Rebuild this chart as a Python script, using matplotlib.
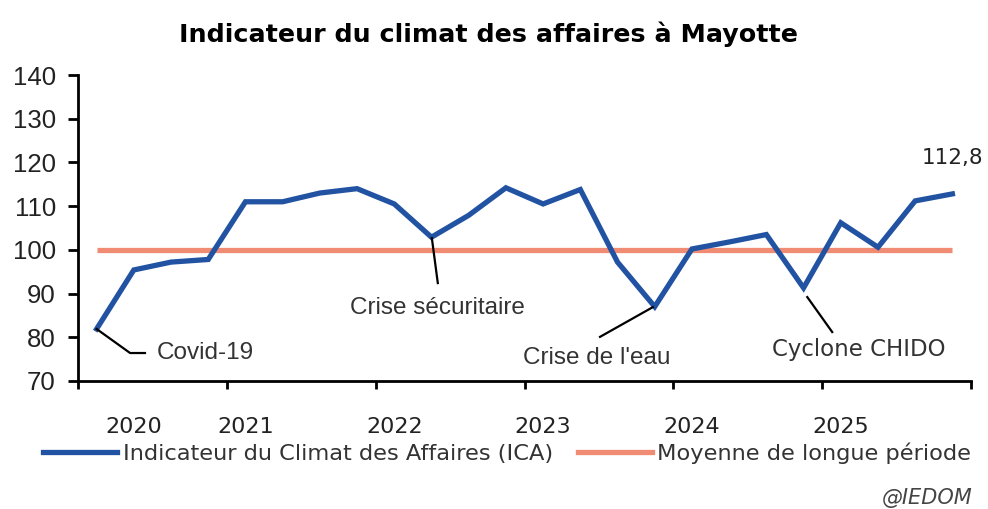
import matplotlib.pyplot as plt
from matplotlib.lines import Line2D

# Quarterly values, 2020 Q1 .. 2025 Q4
ica = [81.9, 95.4, 97.2, 97.8, 111.0, 111.0, 113.0, 114.0,
       110.5, 102.9, 107.9, 114.2, 110.5, 113.8, 97.2, 87.0,
       100.2, 101.8, 103.5, 91.3, 106.2, 100.6, 111.2, 112.8]
moyenne = [100] * len(ica)
years = ['2020', '2021', '2022', '2023', '2024', '2025']
year_pos = [1, 4, 8, 12, 16, 20]

blue = '#2253A2'
salmon = '#F08B74'
arial = 'Liberation Sans'
tahoma = 'DejaVu Sans'

fig = plt.figure(figsize=(9.88, 5.09), dpi=100)
ax = fig.add_axes([78 / 988, 1 - 381 / 509, 893 / 988, 306 / 509])

x = list(range(len(ica)))
ax.plot(x, moyenne, color=salmon, lw=3.8, solid_capstyle='butt')
ax.plot(x, ica, color=blue, lw=3.8, solid_joinstyle='miter')

ax.set_xlim(-0.5, len(ica) - 0.5)
ax.set_ylim(70, 140)
ax.set_yticks(range(70, 141, 10))
ax.set_xticks([-0.5 + 4 * i for i in range(7)])
ax.set_xticklabels([])
ax.set_xticks(year_pos, minor=True)
ax.set_xticklabels(years, minor=True, fontfamily=tahoma, fontsize=16,
                   color='#222222')
ax.tick_params(axis='x', which='minor', length=0, pad=26)
ax.tick_params(axis='x', which='major', length=6, width=2, direction='out')
ax.tick_params(axis='y', length=7, width=2, pad=9, labelsize=18.5)
for lab in ax.get_yticklabels():
    lab.set_fontfamily(arial)
    lab.set_color('#222222')
for s in ['top', 'right']:
    ax.spines[s].set_visible(False)
for s in ['left', 'bottom']:
    ax.spines[s].set_linewidth(2)
ax.spines['bottom'].set_capstyle('projecting')

# annotations
line_kw = dict(color='black', lw=1.6)
ax.plot([0, 0.9, 1.3], [81.9, 76.4, 76.4], **line_kw)
ax.text(1.62, 76.4, 'Covid-19', fontfamily=arial, fontsize=17.5,
        color='#333333', ha='left', va='center')
ax.plot([9.01, 9.17], [102.7, 92.4], **line_kw)
ax.text(9.15, 86.7, 'Crise sécuritaire', fontfamily=arial, fontsize=17.5,
        color='#333333', ha='center', va='center')
ax.plot([14.95, 13.53], [86.9, 80.1], **line_kw)
ax.text(13.43, 75.3, "Crise de l'eau", fontfamily=arial, fontsize=17.5,
        color='#333333', ha='center', va='center')
ax.plot([19.1, 19.77], [89.2, 81.2], **line_kw)
ax.text(20.47, 77.1, 'Cyclone CHIDO', fontfamily=tahoma, fontsize=16.5,
        color='#333333', ha='center', va='center')
ax.text(23.0, 121.0, '112,8', fontfamily=tahoma, fontsize=15.5,
        color='#222222', ha='center', va='center')

fig.text(488 / 988, 1 - 34 / 509, 'Indicateur du climat des affaires à Mayotte',
         fontfamily=tahoma, fontweight='bold', fontsize=18.3,
         ha='center', va='center')

handles = [Line2D([], [], color=blue, lw=3.8),
           Line2D([], [], color=salmon, lw=3.8)]
fig.legend(handles, ['Indicateur du Climat des Affaires (ICA)',
                     'Moyenne de longue période'],
           loc='center', bbox_to_anchor=(507 / 988, 1 - 453 / 509), ncol=2,
           frameon=False, prop={'family': tahoma, 'size': 16.2},
           handlelength=3.3, handletextpad=0.25, columnspacing=1.1,
           labelcolor='#333333', borderpad=0, borderaxespad=0)

fig.text(973 / 988, 1 - 498 / 509, '@IEDOM', fontfamily=tahoma,
         fontstyle='italic', fontsize=15, color='#444444',
         ha='right', va='center')

fig.savefig('out.png', dpi=100)
